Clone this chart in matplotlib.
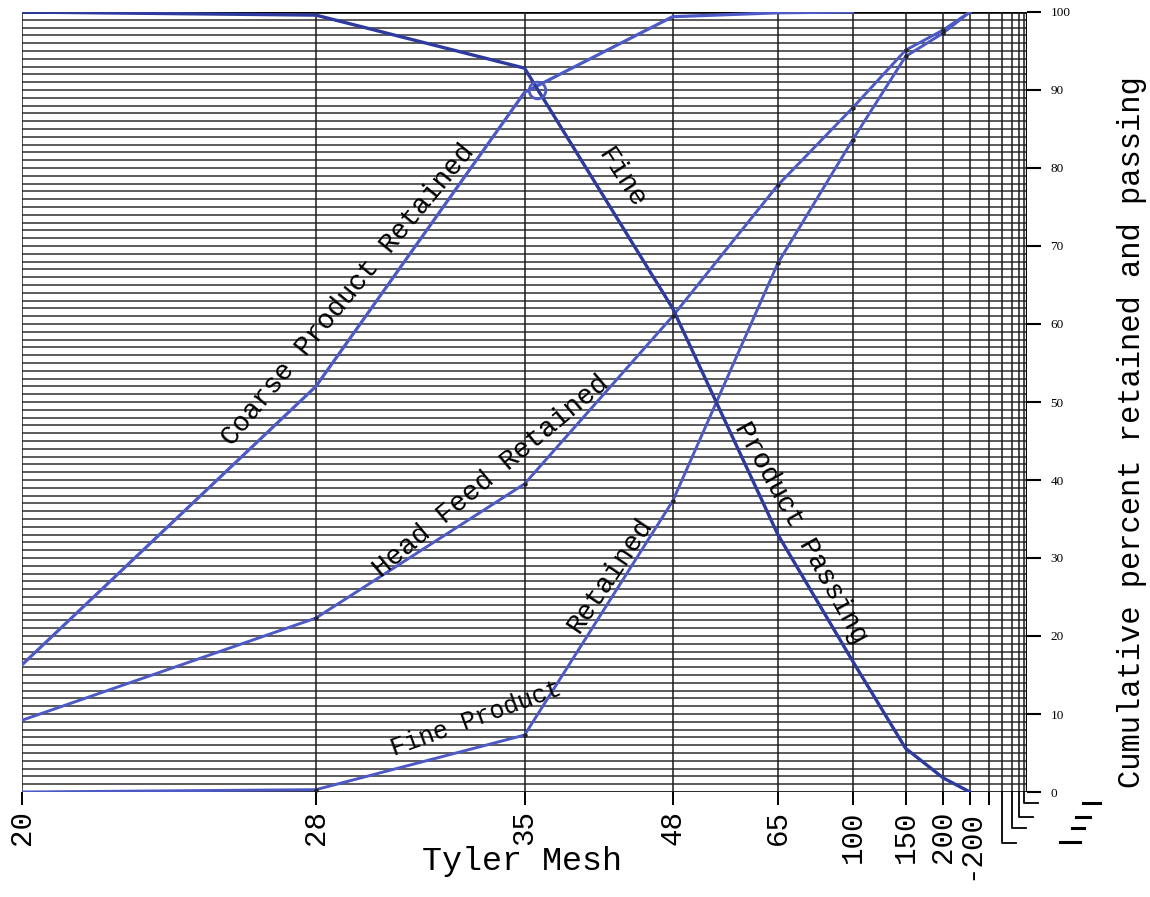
import numpy as np
import matplotlib
matplotlib.use("Agg")
import matplotlib.pyplot as plt
from matplotlib.lines import Line2D
from matplotlib import transforms

# ---------------- data ----------------
mesh_labels = ['20', '28', '35', '48', '65', '100', '150', '200', '-200']
coarse_retained = [16.3, 52.0, 89.7, 99.4, 99.9, 100.0]
fine_passing = [100.0, 99.6, 92.8, 62.0, 33.0, 16.8, 5.6, 1.8, 0.0]
head_feed_retained = [9.2, 22.3, 39.5, 61.0, 77.8, 87.7, 95.1, 97.7, 100.0]
fine_retained = [0.0, 0.3, 7.3, 37.3, 67.8, 83.6, 94.3, 97.3, 100.0]
y_ticks = list(range(0, 101, 10))

# ---------------- style ----------------
MONO = ['Liberation Mono', 'DejaVu Sans Mono']
LIGHT = '#4d59c4'
DARK = '#2e3a9e'
GRID = '#404040'

fig = plt.figure(figsize=(11.5, 8.97), dpi=100)
ax = fig.add_axes([22 / 1150, 105 / 897, 1005 / 1150, 780 / 897])

# geometric sieve-paper scale along x (index of mesh)
r = 0.71


def fwd(i):
    i = np.asarray(i, float)
    return (1 - r ** i) / (1 - r)


def inv(u):
    u = np.asarray(u, float)
    v = np.clip(1 - u * (1 - r), 1e-12, None)
    return np.log(v) / np.log(r)


ax.set_xscale('function', functions=(fwd, inv))
ax.set_xlim(0, 14)
ax.set_ylim(0, 100)

# graph-paper grid
for k in range(0, 101):
    if k in (0, 100):
        ax.axhline(k, color='black', lw=1.9, zorder=1)
    else:
        ax.axhline(k, color=GRID, lw=1.2, zorder=1)
for i in range(0, 14):
    ax.axvline(i, color='#1a1a1a', lw=1.1, zorder=1.5)
ax.axvline(14, color='black', lw=1.6, zorder=1.5)

for s in ax.spines.values():
    s.set_visible(False)

# curves
xi = np.arange(len(mesh_labels))
ax.plot(xi[:len(coarse_retained)], coarse_retained, color=LIGHT, lw=2.3, zorder=3)
ax.plot(xi, head_feed_retained, color=LIGHT, lw=2.1, zorder=3)
ax.plot(xi, fine_retained, color=LIGHT, lw=2.1, zorder=3)
ax.plot(xi, fine_passing, color=DARK, lw=2.4, zorder=3)

# small drafting dots at plotted points
for ys in (head_feed_retained[1:-1], fine_retained[1:-1]):
    ax.plot(xi[1:-1], ys, ls='none', marker='o', ms=2.2, color='#222222', zorder=4)

# little hand-drawn circle near the 35-mesh coarse point
circ_tr = transforms.offset_copy(ax.transData, fig=fig, x=12, y=2, units='dots')
ax.plot([xi[2]], [coarse_retained[2]], marker='o', ms=12, mfc='none',
        mec=LIGHT, mew=2, transform=circ_tr, zorder=4)

# ticks
ax.set_xticks(list(range(10)))
ax.set_xticklabels(mesh_labels + [''], rotation=90, fontsize=21, family=MONO)
ax.tick_params(axis='x', direction='out', length=9, width=1.4, pad=4,
               color='black')
ax.yaxis.tick_right()
ax.set_yticks(y_ticks)
ax.set_yticklabels([str(v) for v in y_ticks], fontsize=9.5,
                   family=['Liberation Serif'])
ax.tick_params(axis='y', direction='out', length=10, width=1.5, pad=7)

# labels
fig.text(522 / 1150, 1 - 861 / 897, 'Tyler Mesh', ha='center', va='center',
         fontsize=24, family=MONO)
fig.text(1132 / 1150, 1 - 432 / 897, 'Cumulative percent retained and passing',
         rotation=90, ha='center', va='center', fontsize=22, family=MONO)

# curve labels (typewritten along lines)
lab = dict(transform=ax.transAxes, ha='center', va='center',
           family=MONO, rotation_mode='anchor', zorder=5)
ax.text(0.325, 0.637, 'Coarse Product Retained', rotation=50.5, fontsize=20, **lab)
ax.text(0.467, 0.405, 'Head Feed Retained', rotation=40, fontsize=20, **lab)
ax.text(0.452, 0.094, 'Fine Product', rotation=20, fontsize=18, **lab)
ax.text(0.585, 0.278, 'Retained', rotation=56, fontsize=20, **lab)
ax.text(0.596, 0.787, 'Fine', rotation=-57, fontsize=20, **lab)
ax.text(0.775, 0.333, 'Product Passing', rotation=-61, fontsize=20, **lab)

# graph-paper stepped lines below the right end
fig.canvas.draw()
to_fig = fig.transFigure.inverted()
depths = [51, 36, 25, 11]
for idx, d in zip([10, 11, 12, 13], depths):
    px, py = ax.transData.transform((idx, 0))
    pts = np.array([[px, py], [px, py - d], [px + 14, py - d]])
    fp = to_fig.transform(pts)
    fig.add_artist(Line2D(fp[:, 0], fp[:, 1], color='black', lw=1.3))
# small marks at lower right
for (x0, x1, yy) in [(1060, 1080, 842), (1072, 1084, 828), (1076, 1090, 817), (1083, 1100, 803)]:
    fp = to_fig.transform(np.array([[x0, 897 - yy], [x1, 897 - yy]]))
    fig.add_artist(Line2D(fp[:, 0], fp[:, 1], color='black', lw=2.2))

fig.savefig('out.png', dpi=100)
